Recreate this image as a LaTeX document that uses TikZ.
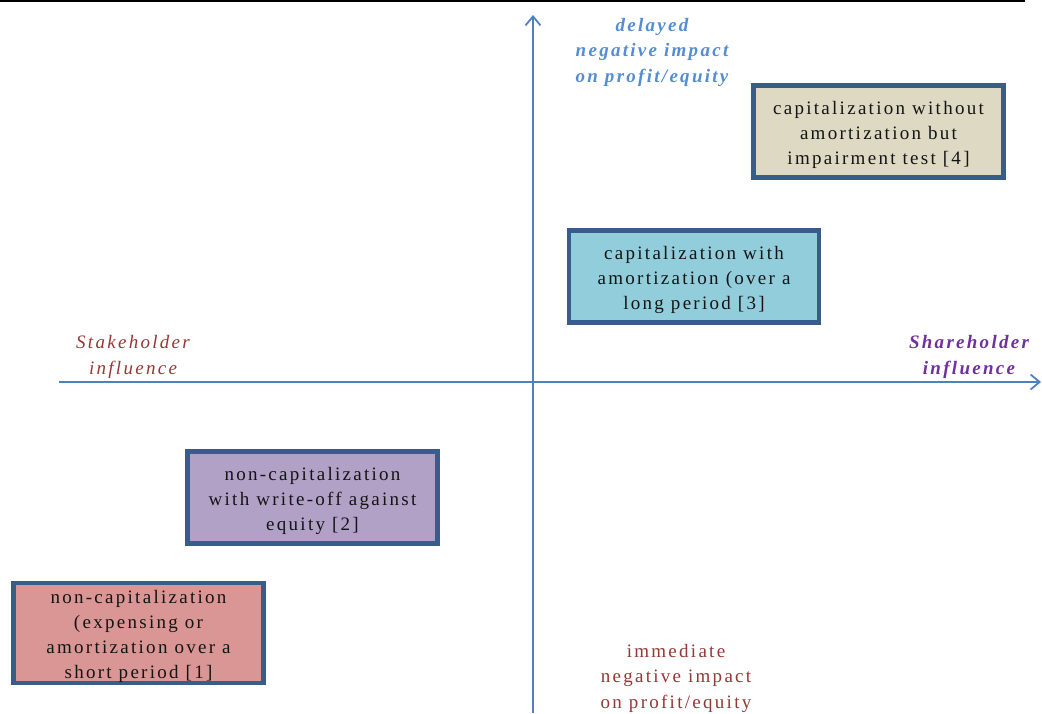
\documentclass[tikz,border=0pt]{standalone}
\usepackage{fontspec}
\setmainfont{Liberation Serif}[LetterSpace=12]
\usetikzlibrary{arrows.meta}
\definecolor{axisblue}{RGB}{79,129,189}
\definecolor{frameblue}{RGB}{56,93,138}
\definecolor{delayblue}{RGB}{84,141,212}
\definecolor{stakered}{RGB}{149,55,53}
\definecolor{sharepurple}{RGB}{112,48,160}
\definecolor{fillfour}{RGB}{221,217,195}
\definecolor{fillthree}{RGB}{146,205,220}
\definecolor{filltwo}{RGB}{178,161,199}
\definecolor{fillone}{RGB}{217,150,148}
\definecolor{boxtext}{RGB}{20,20,20}
\tikzset{
  axis/.style={draw=axisblue, line width=1.8pt,
    -{Straight Barb[length=9pt,width=15pt,line width=1.8pt]}},
  optionbox/.style={draw=frameblue, line width=4.6pt, minimum width=250pt,
    minimum height=92pt, inner sep=0pt, align=center, text=boxtext,
    font=\fontsize{19}{25}\selectfont},
  axislabel/.style={align=center, inner sep=0pt, font=\fontsize{19}{25.5}\selectfont},
}
\begin{document}
\begin{tikzpicture}[x=1pt,y=-1pt]
\useasboundingbox (0,0) rectangle (1042,713);
% rule along the top edge
\coordinate (topL) at (0,1);
\coordinate (topR) at (1025,1);
\draw[black, line width=1.2pt] (topL) -- (topR);

% axes
\coordinate (vBot) at (533,713);
\coordinate (vTop) at (533,15);
\coordinate (hLeft) at (59,382);
\coordinate (hRight) at (1041,382);
\draw[axis] (vBot) -- (vTop);
\draw[axis] (hLeft) -- (hRight);

% axis labels
\node[axislabel, text=delayblue, font=\fontsize{19}{25.5}\selectfont\bfseries\itshape]
  (delayed) at (652,52) {delayed\\negative impact\\on profit/equity};
\node[axislabel, text=stakered, font=\fontsize{19}{26}\selectfont\itshape]
  (stake) at (133,357) {Stakeholder\\influence};
\node[axislabel, text=sharepurple, font=\fontsize{19}{26}\selectfont\bfseries\itshape]
  (share) at (969,357) {Shareholder\\influence};
\node[axislabel, text=stakered]
  (immediate) at (676,678) {immediate\\negative impact\\on profit/equity};

% accounting options
\node[optionbox, fill=fillfour] (opt4) at (878.5,131.5)
  {\rule{0pt}{21pt}capitalization without\\amortization but\\impairment test [4]};
\node[optionbox, fill=fillthree] (opt3) at (694,276.5)
  {\rule{0pt}{21pt}capitalization with\\amortization (over a\\long period [3]};
\node[optionbox, fill=filltwo] (opt2) at (312.5,497.5)
  {\rule{0pt}{21pt}non-capitalization\\with write-off against\\equity [2]};
\node[optionbox, fill=fillone] (opt1) at (138.5,633)
  {\rule{0pt}{21pt}non-capitalization\\(expensing or\\amortization over a\\short period [1]};
\end{tikzpicture}
\end{document}
